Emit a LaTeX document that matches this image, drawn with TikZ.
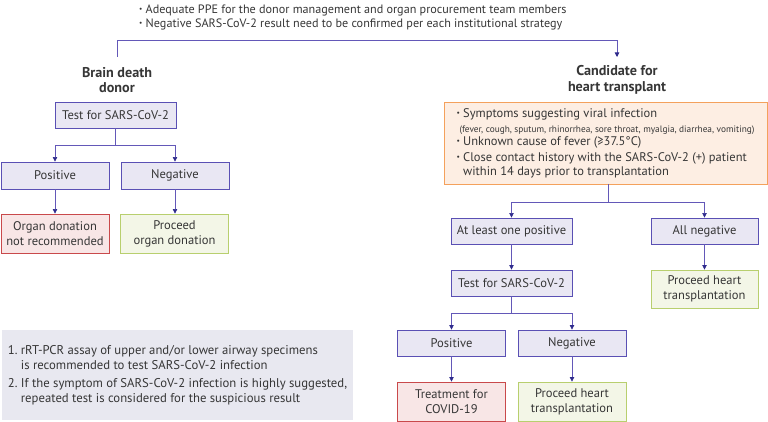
\documentclass[tikz,border=0pt]{standalone}
\usepackage{fontspec}
\setmainfont{PT Sans}
\newfontfamily\symfont{DejaVu Sans}
\usetikzlibrary{arrows.meta}
\definecolor{bfill}{HTML}{E9E7F3}
\definecolor{bdraw}{HTML}{5A50B4}
\definecolor{ln}{HTML}{6358B8}
\definecolor{arr}{HTML}{2E2A8C}
\definecolor{rfill}{HTML}{F8E6E6}
\definecolor{rdraw}{HTML}{C9494B}
\definecolor{gfill}{HTML}{F3F6E7}
\definecolor{gdraw}{HTML}{B8CF6E}
\definecolor{ofill}{HTML}{FDEEE3}
\definecolor{odraw}{HTML}{F4A15C}
\definecolor{nfill}{HTML}{E8E8F0}
\definecolor{txt}{HTML}{363636}
\newlength\fitlen
\newcommand\fitfont[2]{\settowidth\fitlen{\fontsize{10pt}{12pt}\selectfont #2}\pgfmathsetmacro\fitresult{10*#1/\fitlen}}
\newcommand{\bul}{{\fontsize{0.6em}{1em}\selectfont\raisebox{0.55ex}{•}}}
\newcommand{\geqsym}{\iffontchar\font"2265 ≥\else{\symfont ≥}\fi}
\begin{document}
\fitfont{237.6}{Adequate PPE for the donor management and}\let\topfs\fitresult
\fitfont{106.7}{Test for SARS-CoV-2}\let\boxfs\fitresult
\fitfont{70}{\bfseries Brain death}\let\headfs\fitresult
\fitfont{194}{Symptoms suggesting viral infection}\let\orfs\fitresult
\fitfont{295}{(fever, cough, sputum, rhinorrhea, sore throat, myalgia, diarrhea, vomiting)}\let\smfs\fitresult
\fitfont{297}{rRT-PCR assay of upper and/or lower airway specimens}\let\notefs\fitresult
\begin{tikzpicture}[x=1pt,y=-1pt,
 every node/.style={text=txt},
 base/.style={line width=0.9pt, inner sep=0pt, align=center, font=\fontsize{\boxfs pt}{15pt}\selectfont},
 bbox/.style={base, draw=bdraw, fill=bfill},
 rbox/.style={base, draw=rdraw, fill=rfill},
 gbox/.style={base, draw=gdraw, fill=gfill},
 obox/.style={base, draw=odraw, fill=ofill, align=left},
 nbox/.style={base, fill=nfill, align=left},
 head/.style={align=center, inner sep=0pt, font=\fontsize{\headfs pt}{15.5pt}\selectfont\bfseries},
 conn/.style={draw=ln, line width=0.7pt},
 arrow/.style={conn, -{Triangle[length=4.5pt,width=4.5pt,color=arr]}},
]
\useasboundingbox (0,0) rectangle (768,422);

% top text
\node[anchor=west, align=left, inner sep=0pt, font=\fontsize{\topfs pt}{14pt}\selectfont] (ppe) at (139,17.5)
 {\bul\ Adequate PPE for the donor management and organ procurement team members\\
  \bul\ Negative SARS-CoV-2 result need to be confirmed per each institutional strategy};

\node[head] (donor) at (117,80) {Brain death\\donor};
\node[head] (cand) at (617,80) {Candidate for\\heart transplant};
\coordinate (tl) at (117,57);
\coordinate (tlc) at (117,40);
\coordinate (trc) at (617,40);
\coordinate (tr) at (617,57);
\draw[arrow] (tl) -- (tlc) -- (trc) -- (tr);

% left branch
\node[bbox, minimum width=121pt, minimum height=26pt] (ltest) at (115.5,115) {Test for SARS-CoV-2};
\node[bbox, minimum width=108pt, minimum height=27pt] (lpos) at (55,175.5) {Positive};
\node[bbox, minimum width=108pt, minimum height=27pt] (lneg) at (175,175.5) {Negative};
\node[rbox, minimum width=108pt, minimum height=39pt] (lred) at (55,233.5) {Organ donation\\not recommended};
\node[gbox, minimum width=108pt, minimum height=39pt] (lgreen) at (174.5,233.5) {Proceed\\organ donation};
\coordinate (lbr) at (115.5,145);
\draw[conn] (ltest.south) -- (lbr);
\draw[arrow] (lbr) -| (lpos.north);
\draw[arrow] (lbr) -| (lneg.north);
\draw[arrow] (lpos) -- (lred);
\draw[arrow] (lneg.south) -- (lneg.south |- lgreen.north);

% note box
\node[nbox, minimum width=351pt, minimum height=90pt, font=\fontsize{\notefs pt}{15pt}\selectfont] (note) at (177.5,375)
 {1.\ rRT-PCR assay of upper and/or lower airway specimens\\
  \hphantom{1.\ }is recommended to test SARS-CoV-2 infection\\[3.5pt]
  2.\ If the symptom of SARS-CoV-2 infection is highly suggested,\\
  \hphantom{2.\ }repeated test is considered for the suspicious result};

% right branch
\node[obox, minimum width=323pt, minimum height=82pt, font=\fontsize{\orfs pt}{14.5pt}\selectfont] (cond) at (605.5,143)
 {\bul\ Symptoms suggesting viral infection\\[0.5pt]
  \hspace{3pt}{\fontsize{\smfs pt}{9pt}\selectfont (fever, cough, sputum, rhinorrhea, sore throat, myalgia, diarrhea, vomiting)}\\[-1.5pt]
  \bul\ Unknown cause of fever (\geqsym37.5°C)\\[1.5pt]
  \bul\ Close contact history with the SARS-CoV-2 (+) patient\\[-0.5pt]
  \hphantom{\bul\ }within 14 days prior to transplantation};
\node[bbox, minimum width=121pt, minimum height=26pt] (one) at (511.5,231) {At least one positive};
\node[bbox, minimum width=107pt, minimum height=26pt] (allneg) at (704.5,231) {All negative};
\node[bbox, minimum width=121pt, minimum height=26pt] (rtest) at (511.5,283) {Test for SARS-CoV-2};
\node[gbox, minimum width=107pt, minimum height=38pt] (rproc1) at (704.5,289) {Proceed heart\\transplantation};
\node[bbox, minimum width=108pt, minimum height=26pt] (rpos) at (451.5,343) {Positive};
\node[bbox, minimum width=108pt, minimum height=26pt] (rneg) at (572,343) {Negative};
\node[rbox, minimum width=108pt, minimum height=39pt] (treat) at (451.5,401.5) {Treatment for\\COVID-19};
\node[gbox, minimum width=108pt, minimum height=39pt] (rproc2) at (572,401.5) {Proceed heart\\transplantation};

\coordinate (obr) at (608,202);
\draw[conn] (cond.south -| obr) -- (obr);
\draw[arrow] (obr) -| (one.north);
\draw[arrow] (obr) -| (allneg.north);
\draw[arrow] (one) -- (rtest);
\draw[arrow] (allneg) -- (rproc1);
\coordinate (rbr) at (511.5,313);
\draw[conn] (rtest.south) -- (rbr);
\draw[arrow] (rbr) -| (rpos.north);
\draw[arrow] (rbr) -| (rneg.north);
\draw[arrow] (rpos) -- (treat);
\draw[arrow] (rneg) -- (rproc2);
\end{tikzpicture}
\end{document}
